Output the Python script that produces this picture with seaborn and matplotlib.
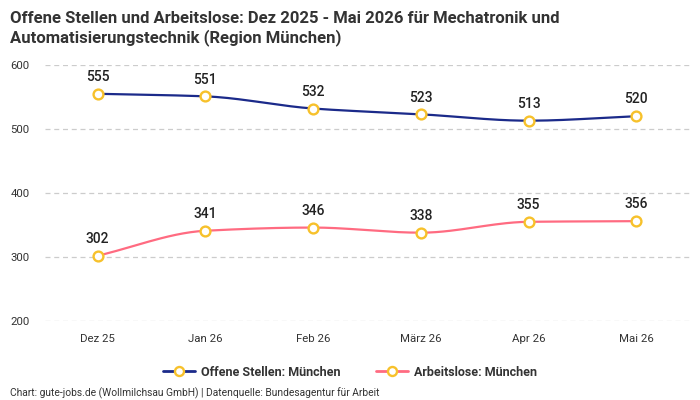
import numpy as np
import pandas as pd
import matplotlib
matplotlib.use("Agg")
import matplotlib.pyplot as plt
import seaborn as sns
from matplotlib.lines import Line2D

months = ["Dez 25", "Jan 26", "Feb 26", "März 26", "Apr 26", "Mai 26"]
offene_stellen = [555, 551, 532, 523, 513, 520]
arbeitslose = [302, 341, 346, 338, 355, 356]
series_names = ["Offene Stellen: München", "Arbeitslose: München"]
y_ticks = [200, 300, 400, 500, 600]

colors = ["#1b2a8a", "#ff6b81"]
marker_edge = "#f7c12b"

sns.set_theme(style="white")
plt.rcParams["font.family"] = ["Roboto", "DejaVu Sans"]

df = pd.DataFrame({
    "Monat": months * 2,
    "x": list(range(len(months))) * 2,
    "Wert": offene_stellen + arbeitslose,
    "Serie": [series_names[0]] * len(months) + [series_names[1]] * len(months),
})


def monotone(x, y, n=30):
    x = np.asarray(x, float)
    y = np.asarray(y, float)
    h = np.diff(x)
    d = np.diff(y) / h
    m = np.zeros_like(y)
    m[0], m[-1] = d[0], d[-1]
    for i in range(1, len(y) - 1):
        if d[i - 1] * d[i] <= 0:
            m[i] = 0
        else:
            m[i] = 2 / (1 / d[i - 1] + 1 / d[i])
    xs, ys = [], []
    for i in range(len(x) - 1):
        t = np.linspace(0, 1, n)
        h00 = 2 * t**3 - 3 * t**2 + 1
        h10 = t**3 - 2 * t**2 + t
        h01 = -2 * t**3 + 3 * t**2
        h11 = t**3 - t**2
        xs.append(x[i] + t * h[i])
        ys.append(h00 * y[i] + h10 * h[i] * m[i] + h01 * y[i + 1] + h11 * h[i] * m[i + 1])
    return np.concatenate(xs), np.concatenate(ys)


fig = plt.figure(figsize=(7, 4), dpi=100)
ax = fig.add_axes([0.064, 0.1975, 0.922, 0.64])

for name, col in zip(series_names, colors):
    sub = df[df["Serie"] == name]
    xs, ys = monotone(sub["x"], sub["Wert"])
    ax.plot(xs, ys, color=col, lw=1.6, zorder=2)
    sns.scatterplot(data=sub, x="x", y="Wert", ax=ax, s=50, facecolor="white",
                    edgecolor=marker_edge, linewidth=1.7, zorder=3, legend=False)
    for xi, yi in zip(sub["x"], sub["Wert"]):
        ax.annotate(f"{yi}", (xi, yi), xytext=(0, 7), textcoords="offset points",
                    ha="center", va="bottom", fontsize=10, fontweight="medium",
                    color="#222222")

ax.set_xlim(-0.49, 5.5)
ax.set_ylim(200, 600)
ax.set_yticks(y_ticks)
ax.set_xticks(range(len(months)))
ax.set_xticklabels(months)
ax.set_xlabel("")
ax.set_ylabel("")
ax.grid(axis="y", color="#cccccc", linestyle=(0, (4, 3)), lw=0.9)
ax.grid(axis="x", visible=False)
for s in ax.spines.values():
    s.set_visible(False)
ax.tick_params(axis="both", length=0, labelsize=8.2, colors="#333333")
ax.tick_params(axis="y", pad=11)
ax.tick_params(axis="x", pad=9)

handles = [Line2D([0], [0], color=c, lw=2, marker="o", markersize=6.5,
                  markerfacecolor="white", markeredgecolor=marker_edge,
                  markeredgewidth=1.7) for c in colors]
leg = fig.legend(handles, series_names, loc="center", bbox_to_anchor=(0.5, 0.07),
                 ncol=2, frameon=False, fontsize=9, handlelength=2.6,
                 columnspacing=2.8, handletextpad=0.5)
for t in leg.get_texts():
    t.set_fontweight("semibold")
    t.set_color("#333333")

fig.text(0.014, 0.972, "Offene Stellen und Arbeitslose: Dez 2025 - Mai 2026 für Mechatronik und\nAutomatisierungstechnik (Region München)",
         ha="left", va="top", fontsize=12, fontweight="bold", color="#333333", linespacing=1.25)
fig.text(0.014, 0.017, "Chart: gute-jobs.de (Wollmilchsau GmbH) | Datenquelle: Bundesagentur für Arbeit",
         ha="left", va="center", fontsize=7.4, color="#333333")

fig.savefig("out.png", dpi=100)
